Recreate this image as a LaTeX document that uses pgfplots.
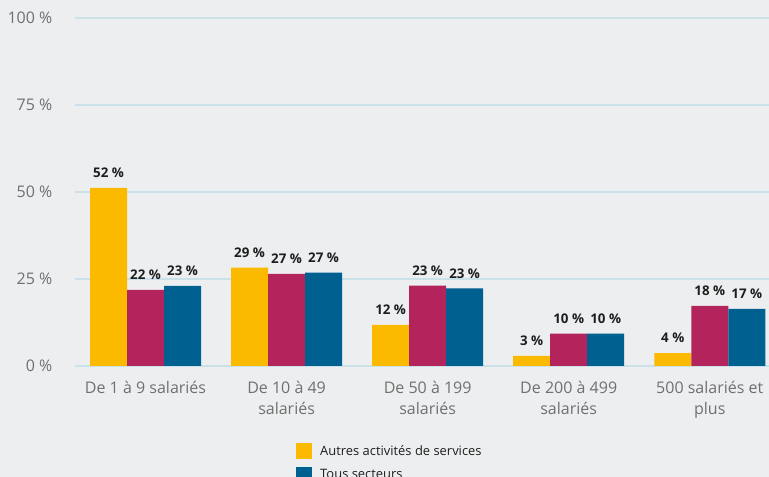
\documentclass[border=0pt]{standalone}
\usepackage{pgfplots}
\pgfplotsset{compat=1.18}
\usepackage{fontspec}
\setmainfont{Open Sans}
\definecolor{bg}{RGB}{237,238,240}
\definecolor{gridc}{RGB}{203,225,234}
\definecolor{cyel}{RGB}{251,185,0}
\definecolor{ccri}{RGB}{180,36,92}
\definecolor{cblu}{RGB}{0,96,144}
\definecolor{tickc}{RGB}{112,112,112}
\definecolor{labc}{RGB}{30,30,30}
\begin{document}
\begin{tikzpicture}
\fill[bg] (0,0) rectangle (576.75pt,357.75pt);
\useasboundingbox (0,0) rectangle (576.75pt,357.75pt);
\begin{axis}[
  at={(56.25pt,83.25pt)}, anchor=south west,
  scale only axis, width=520.5pt, height=261pt,
  ybar, bar width=27.75pt,
  xmin=-0.5, xmax=4.42, ymin=0, ymax=100,
  axis line style={draw=none},
  major tick length=0pt,
  ymajorgrids, grid style={gridc, line width=1.2pt},
  ytick={0,25,50,75,100},
  yticklabels={0 \%,25 \%,50 \%,75 \%,100 \%},
  yticklabel style={text=tickc, font=\fontsize{12}{14}\selectfont, xshift=-13.5pt},
  xtick={0,1,2,3,4},
  xticklabels={De 1 à 9 salariés, De 10 à 49\\salariés, De 50 à 199\\salariés, De 200 à 499\\salariés, 500 salariés et\\plus},
  xticklabel style={text=tickc, align=center, font=\fontsize{12}{15.75}\selectfont, yshift=-8pt},
  point meta=explicit symbolic,
  nodes near coords,
  nodes near coords style={font=\fontsize{10}{12}\selectfont\bfseries, text=labc, anchor=south, yshift=4pt},
  clip=false,
  legend style={at={(0.3184,-0.219)}, anchor=north west, draw=none, fill=none, inner sep=0pt,
    font=\fontsize{9.7}{11.5}\selectfont, text=labc, row sep=5.25pt, nodes={inner sep=2pt}},
  legend cell align=left,
]
\addplot[draw=none, fill=cyel, bar shift=-27.75pt,
  legend image code/.code={\fill[cyel] (0pt,-6pt) rectangle (12pt,6pt); \path (16pt,0pt);}]
  coordinates {(0,51.2) [52 \%] (1,28.3) [29 \%] (2,11.8) [12 \%] (3,2.9) [3 \%] (4,3.7) [4 \%]};
\addlegendentry{Autres activités de services}
\addplot[draw=none, fill=ccri, bar shift=0pt, forget plot]
  coordinates {(0,21.9) [22 \%] (1,26.5) [27 \%] (2,23.1) [23 \%] (3,9.3) [10 \%] (4,17.3) [18 \%]};
\addplot[draw=none, fill=cblu, bar shift=27.75pt,
  legend image code/.code={\fill[cblu] (0pt,-6pt) rectangle (12pt,6pt); \path (16pt,0pt);}]
  coordinates {(0,23.0) [23 \%] (1,26.8) [27 \%] (2,22.3) [23 \%] (3,9.3) [10 \%] (4,16.4) [17 \%]};
\addlegendentry{Tous secteurs}
\end{axis}
\end{tikzpicture}
\end{document}
